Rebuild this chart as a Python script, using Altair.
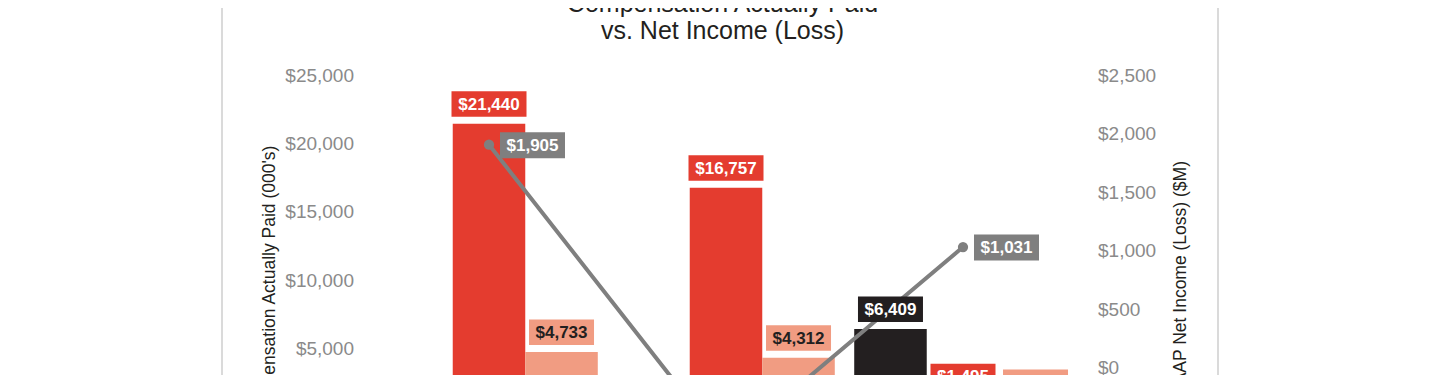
import altair as alt
import pandas as pd

# ---------------- data ----------------
YEARS = ["2022", "2023", "2024"]
SERIES = ["Current PEO CAP", "Former PEO CAP", "Average Non-PEO NEO CAP"]
CAP_CURRENT_PEO = [None, None, 6409]
CAP_FORMER_PEO = [21440, 16757, 1495]
CAP_AVG_NEO = [4733, 4312, 1078]
NET_INCOME = [1905, -676, 1031]
LEFT_TICKS = [-5000, 0, 5000, 10000, 15000, 20000, 25000]
RIGHT_TICKS = [-1000, -500, 0, 500, 1000, 1500, 2000, 2500]
TITLE_LINES = ["Compensation Actually Paid", "vs. Net Income (Loss)"]
LEFT_TITLE = "Compensation Actually Paid (000's)"
RIGHT_TITLE = "GAAP Net Income (Loss) ($M)"

# ---------------- styles ----------------
FONT = "Liberation Sans"
BAR_COLORS = ["#231f20", "#e43c2f", "#f19c82"]
LINE_COLOR = "#7f7f7f"
DARK = "#231f20"
LABEL_GRAY = "#8a8a8a"

rows = []
for s, vals in zip(SERIES, [CAP_CURRENT_PEO, CAP_FORMER_PEO, CAP_AVG_NEO]):
    for yr, v in zip(YEARS, vals):
        if v is not None:
            rows.append({"year": yr, "series": s, "cap": v})
bars_df = pd.DataFrame(rows)
ni_df = pd.DataFrame({"year": YEARS, "net": NET_INCOME})
one_df = pd.DataFrame({"k": [0]})

x_enc = alt.X(
    "year:N",
    scale=alt.Scale(domain=YEARS, paddingInner=0.082, paddingOuter=0.041),
    axis=alt.Axis(title=None, labelFontSize=17, labelColor=LABEL_GRAY,
                  ticks=False, domain=False, labelPadding=10, labelAngle=0),
)
xoff_enc = alt.XOffset("series:N",
                       scale=alt.Scale(domain=SERIES, paddingInner=0, paddingOuter=0))
color_enc = alt.Color("series:N", scale=alt.Scale(domain=SERIES, range=BAR_COLORS),
                      legend=None)

LEFT_SCALE = alt.Scale(domain=[-5000, 25000], nice=False)
RIGHT_SCALE = alt.Scale(domain=[-1000, 2500], nice=False)

y_left = alt.Y(
    "cap:Q", scale=LEFT_SCALE,
    axis=alt.Axis(values=LEFT_TICKS, format="$,.0f", title=LEFT_TITLE,
                  grid=False, ticks=False, tickSize=0, domain=False,
                  labelFontSize=19, labelColor=LABEL_GRAY, labelPadding=17,
                  titleFontSize=17.5, titleFontWeight="normal", titleColor=DARK,
                  titleAngle=270, titleAlign="center", titleBaseline="middle",
                  titleX=-101, titleY=208),
)
y_left_noaxis = alt.Y("cap:Q", scale=LEFT_SCALE, axis=None)
y_right = alt.Y(
    "net:Q", scale=RIGHT_SCALE,
    axis=alt.Axis(orient="right", values=RIGHT_TICKS, format="$,.0f", title=RIGHT_TITLE,
                  grid=False, ticks=False, tickSize=0, domain=False,
                  labelFontSize=19, labelColor=LABEL_GRAY, labelPadding=16,
                  titleFontSize=17.5, titleFontWeight="normal", titleColor=DARK,
                  titleAngle=270, titleAlign="center", titleBaseline="middle",
                  titleX=98.5, titleY=204),
)
y_right_noaxis = alt.Y("net:Q", scale=RIGHT_SCALE, axis=None)

BAR_CALC = dict(
    label="'$' + format(datum.cap, ',')",
    w="10 * length('$' + format(datum.cap, ',')) + 5",
    tc="datum.series === '" + SERIES[2] + "' ? '" + DARK + "' : '#ffffff'",
)
NI_CALC = dict(
    label="(datum.net < 0 ? '-$' : '$') + format(abs(datum.net), ',')",
    w="10 * length((datum.net < 0 ? '-$' : '$') + format(abs(datum.net), ',')) + 5",
)

# ---------------- bars ----------------
bars = alt.Chart(bars_df).mark_bar(opacity=1).encode(
    x=x_enc, xOffset=xoff_enc, y=y_left, color=color_enc)

# ---------------- net income line ----------------
line = alt.Chart(ni_df).mark_line(color=LINE_COLOR, strokeWidth=4, opacity=1).encode(
    x=x_enc, y=y_right)
pts = alt.Chart(ni_df).mark_point(filled=True, size=105, color=LINE_COLOR,
                                  opacity=1).encode(x=x_enc, y=y_right)
line_layer = alt.layer(line, pts)

# ---------------- value labels (on top of everything) ----------------
bar_boxes = alt.Chart().mark_tick(orient="horizontal", thickness=25.5, opacity=1,
                                  yOffset=-19.75).encode(
    x=x_enc, xOffset=xoff_enc, y=y_left_noaxis, color=color_enc,
    size=alt.Size("w:Q", scale=None, legend=None))
bar_text = alt.Chart().mark_text(font=FONT, fontSize=17, fontWeight="bold",
                                 baseline="middle", align="center",
                                 yOffset=-19.0, opacity=1).encode(
    x=x_enc, xOffset=xoff_enc, y=y_left_noaxis, text="label:N",
    color=alt.Color("tc:N", scale=None, legend=None))
bar_labels = alt.layer(bar_boxes, bar_text, data=bars_df).transform_calculate(**BAR_CALC)

ni_boxes = alt.Chart().mark_tick(orient="horizontal", thickness=26, opacity=1,
                                 color=LINE_COLOR, xOffset=43.5, yOffset=0.5).encode(
    x=x_enc, y=y_right_noaxis, size=alt.Size("w:Q", scale=None, legend=None))
ni_text = alt.Chart().mark_text(font=FONT, fontSize=17, fontWeight="bold",
                                baseline="middle", align="center", color="#ffffff",
                                xOffset=43.5, yOffset=1.0, opacity=1).encode(
    x=x_enc, y=y_right_noaxis, text="label:N")
ni_labels = alt.layer(ni_boxes, ni_text, data=ni_df).transform_calculate(**NI_CALC)

# ---------------- frame and title ----------------
frame = alt.Chart(one_df).mark_rect(fillOpacity=0, stroke="#dadada", strokeWidth=2).encode(
    x=alt.value(-148.5), x2=alt.value(847.5), y=alt.value(-140), y2=alt.value(700))

title = alt.Chart(one_df).mark_text(text=TITLE_LINES, font=FONT, fontSize=25,
                                    color=DARK, align="center", baseline="alphabetic",
                                    lineHeight=27.6).encode(
    x=alt.value(352), y=alt.value(-63.5))

chart = alt.layer(frame, title, bars, line_layer, bar_labels, ni_labels).resolve_scale(
    y="independent"
).properties(
    width=711, height=410,
    autosize=alt.AutoSizeParams(type="none"),
    padding={"left": 362.5, "top": 67, "right": 350.5, "bottom": 60},
).configure_view(stroke=None).configure_axis(labelFont=FONT, titleFont=FONT)

chart.save("out.html", embed_options={"renderer": "svg", "actions": False})
